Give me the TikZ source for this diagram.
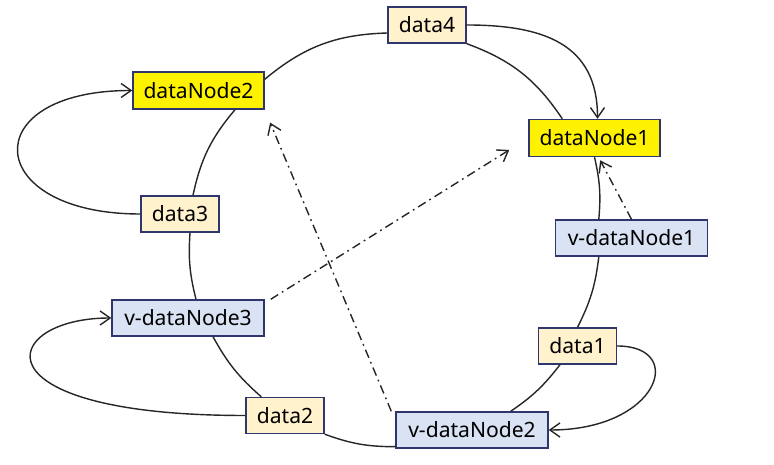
\documentclass[tikz,border=0pt]{standalone}
\usepackage{fontspec}
\setmainfont{Noto Sans}
\usetikzlibrary{
    arrows.meta,
    positioning,
    calc
}
\definecolor{boxline}{RGB}{47,54,110}
\definecolor{datafill}{RGB}{255,242,204}
\definecolor{virtfill}{RGB}{218,227,243}
\tikzstyle{block} = [
    rectangle,
    draw=boxline,
    line width=0.8pt,
    minimum height=0.72cm,
    inner sep=2pt,
    font=\fontsize{12}{14}\selectfont
]
\tikzstyle{datablock} = [
    block,
    fill=datafill,
    minimum width=1.56cm
]
\tikzstyle{namenode} = [
    block,
    fill=yellow,
    minimum width=2.62cm,
    minimum height=0.74cm
]
\tikzstyle{virtnode} = [
    block,
    fill=virtfill,
    minimum width=3.04cm
]
\tikzstyle{ring} = [
    draw=black!85,
    line width=0.8pt
]
\tikzstyle{arrow} = [
    ring,
    -{Straight Barb[length=2mm,width=2.8mm]}
]
\tikzstyle{hint} = [
    arrow,
    dash pattern=on 5pt off 2.5pt on 1pt off 2.5pt
]

\begin{document}
\begin{tikzpicture}
    \useasboundingbox (0,0) rectangle (15.48,9.3);

    % Physical nodes
    \node[namenode] (dn1) at (11.89,6.54) {dataNode1};
    \node[namenode] (dn2) at (3.97,7.49) {dataNode2};

    % Virtual nodes
    \node[virtnode] (vdn1) at (12.63,4.54) {v-dataNode1};
    \node[virtnode] (vdn2) at (9.44,0.70) {v-dataNode2};
    \node[virtnode] (vdn3) at (3.76,2.94) {v-dataNode3};

    % Data
    \node[datablock] (d1) at (11.55,2.38) {data1};
    \node[datablock] (d2) at (5.70,0.99) {data2};
    \node[datablock] (d3) at (3.60,5.02) {data3};
    \node[datablock] (d4) at (8.54,8.80) {data4};

    % Hash ring
    \draw[ring] (d4.south east) to[bend left=18] ([xshift=0.68cm]dn1.north west);
    \draw[ring] (dn1.south) to[bend left=9] ([xshift=0.88cm]vdn1.north west);
    \draw[ring] ([xshift=0.88cm]vdn1.south west) to[bend left=10] (d1.north);
    \draw[ring] ([xshift=-0.35cm]d1.south) to[bend left=9] ([xshift=-0.76cm]vdn2.north east);
    \draw[ring] ([yshift=0.04cm]vdn2.south west) to[bend left=10] (d2.south east);
    \draw[ring] ([xshift=0.32cm]d2.north west) to[bend left=10] ([xshift=0.5cm]vdn3.south);
    \draw[ring] ([xshift=0.16cm]vdn3.north) to[bend left=9] ([xshift=0.2cm]d3.south);
    \draw[ring] ([xshift=0.26cm]d3.north) to[bend left=14] ([xshift=0.73cm]dn2.south);
    \draw[ring] ([yshift=-0.16cm]dn2.north east) to[bend left=19] ([yshift=-0.16cm]d4.west);

    % Data stored on the next node clockwise
    \draw[arrow] (d4.east) to[out=0, in=90, looseness=1.2] ([xshift=0.06cm]dn1.north);
    \draw[arrow] (d3.west) .. controls +(-3.16,0) and +(-3.16,0) .. (dn2.west);
    \draw[arrow] (d2.west) .. controls +(-5.5,0) and +(-2.24,0) .. (vdn3.west);
    \draw[arrow] (d1.east) .. controls +(1.4,0) and +(2.2,0) .. (vdn2.east);

    % Virtual nodes map to physical nodes
    \draw[hint, shorten >=2pt] (vdn1.north) -- ([xshift=0.08cm]dn1.south);
    \draw[hint, shorten >=0.45cm] ([xshift=0.12cm]vdn3.north east) -- (dn1.west);
    \draw[hint, shorten >=0.28cm] ([xshift=-0.08cm]vdn2.north west) -- (dn2.south east);
\end{tikzpicture}
\end{document}
